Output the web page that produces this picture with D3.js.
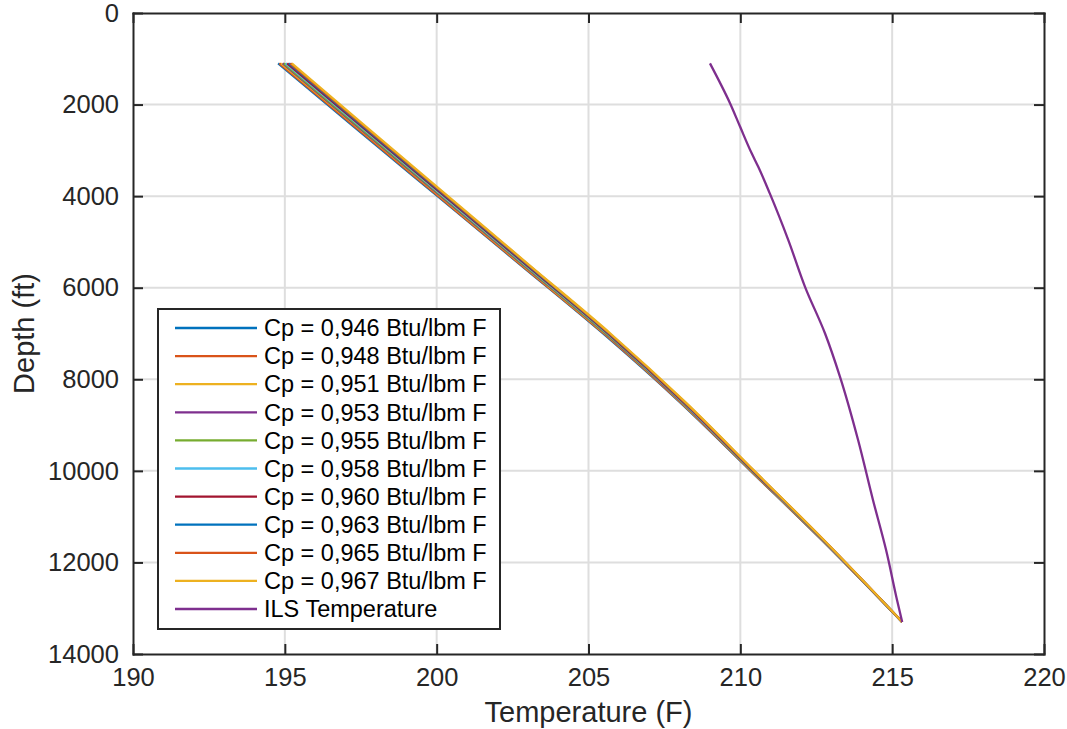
<!DOCTYPE html>
<meta charset="utf-8">
<script src="https://d3js.org/d3.v7.min.js"></script>
<style>
  body { margin:0; background:#fff; }
  text { font-family: "Liberation Sans", Arial, sans-serif; fill:#262626; }
  .tick text { font-size: 25.5px; }
  .grid line { stroke:#dedede; stroke-width:2px; }
  .axis path, .axis line { stroke:#262626; stroke-width:2px; }
  .legend text { font-size: 23.5px; fill:#000; }
</style>
<body>
<script>
// depths (ft) used by the Cp series
var depths = [1100, 2500, 4000, 5500, 7000, 8500, 10000, 11500, 13300];

var cpLabels = ["0,946", "0,948", "0,951", "0,953", "0,955", "0,958", "0,960", "0,963", "0,965", "0,967"];

// temperature (F) for each Cp series at the depths above
var t946 = [194.78, 197.30, 200.03, 202.76, 205.48, 208.01, 210.34, 212.67, 215.33];
var t948 = [194.82, 197.34, 200.06, 202.78, 205.51, 208.03, 210.35, 212.67, 215.33];
var t951 = [194.88, 197.40, 200.11, 202.82, 205.54, 208.05, 210.37, 212.68, 215.33];
var t953 = [194.93, 197.43, 200.14, 202.85, 205.56, 208.07, 210.38, 212.69, 215.33];
var t955 = [194.97, 197.47, 200.18, 202.88, 205.58, 208.09, 210.39, 212.70, 215.33];
var t958 = [195.03, 197.53, 200.22, 202.92, 205.62, 208.11, 210.41, 212.70, 215.33];
var t960 = [195.08, 197.57, 200.26, 202.95, 205.64, 208.13, 210.42, 212.71, 215.33];
var t963 = [195.14, 197.62, 200.31, 202.99, 205.67, 208.16, 210.44, 212.72, 215.33];
var t965 = [195.18, 197.66, 200.34, 203.02, 205.69, 208.17, 210.45, 212.73, 215.33];
var t967 = [195.23, 197.70, 200.37, 203.04, 205.72, 208.19, 210.46, 212.73, 215.33];

// ILS temperature log
var ilsDepths = [1100, 1970, 2480, 3060, 3360, 3940, 4960, 5980, 7000, 7940, 9330, 10640, 11730, 12820, 13300];
var ilsTemps  = [209.0, 209.66, 209.99, 210.37, 210.59, 210.97, 211.58, 212.13, 212.79, 213.28, 213.88, 214.37, 214.8, 215.16, 215.33];

var xTicks = [190, 195, 200, 205, 210, 215, 220];
var yTicks = [0, 2000, 4000, 6000, 8000, 10000, 12000, 14000];

var colors = ["#0072BD", "#D95319", "#EDB120", "#7E2F8E", "#77AC30", "#4DBEEE", "#A2142F",
              "#0072BD", "#D95319", "#EDB120", "#7E2F8E"];

var W = 1067, H = 729;
var pL = 133, pR = 1044, pT = 13, pB = 654;

var series = [t946, t948, t951, t953, t955, t958, t960, t963, t965, t967].map(function(t, i) {
  return { name: "Cp = " + cpLabels[i] + " Btu/lbm F",
           pts: t.map(function(v, j) { return [v, depths[j]]; }) };
});
series.push({ name: "ILS Temperature",
              pts: ilsTemps.map(function(v, j) { return [v, ilsDepths[j]]; }) });

var svg = d3.select("body").append("svg").attr("width", W).attr("height", H);

var x = d3.scaleLinear().domain([190, 220]).range([pL, pR]);
var y = d3.scaleLinear().domain([0, 14000]).range([pT, pB]);

// grid
var grid = svg.append("g").attr("class", "grid");
grid.selectAll(".gx").data(xTicks.slice(1, -1)).enter().append("line")
  .attr("x1", function(d) { return x(d); }).attr("x2", function(d) { return x(d); })
  .attr("y1", pT).attr("y2", pB);
grid.selectAll(".gy").data(yTicks.slice(1, -1)).enter().append("line")
  .attr("y1", function(d) { return y(d); }).attr("y2", function(d) { return y(d); })
  .attr("x1", pL).attr("x2", pR);

// lines
var line = d3.line().curve(d3.curveMonotoneY)
  .x(function(d) { return x(d[0]); }).y(function(d) { return y(d[1]); });
svg.append("g").selectAll("path").data(series).enter().append("path")
  .attr("d", function(d) { return line(d.pts); })
  .attr("fill", "none")
  .attr("stroke", function(d, i) { return colors[i]; })
  .attr("stroke-width", 2.3)
  .attr("stroke-linejoin", "round");

// axes (inward ticks, box)
svg.append("g").attr("class", "axis").attr("transform", "translate(0," + pB + ")")
  .call(d3.axisBottom(x).tickValues(xTicks).tickSizeInner(-10).tickSizeOuter(0).tickPadding(14));
svg.append("g").attr("class", "axis").attr("transform", "translate(" + pL + ",0)")
  .call(d3.axisLeft(y).tickValues(yTicks).tickSizeInner(-10).tickSizeOuter(0).tickPadding(14).tickFormat(d3.format("d")));
svg.append("g").attr("class", "axis").attr("transform", "translate(0," + pT + ")")
  .call(d3.axisTop(x).tickValues(xTicks).tickSizeInner(-10).tickSizeOuter(0).tickFormat(""));
svg.append("g").attr("class", "axis").attr("transform", "translate(" + pR + ",0)")
  .call(d3.axisRight(y).tickValues(yTicks).tickSizeInner(-10).tickSizeOuter(0).tickFormat(""));
svg.selectAll(".axis .domain").attr("stroke-linecap", "square");

// axis titles
svg.append("text").attr("x", (pL + pR) / 2).attr("y", 722)
  .attr("text-anchor", "middle").style("font-size", "29px").text("Temperature (F)");
svg.append("text").attr("transform", "translate(34," + (pT + pB) / 2 + ") rotate(-90)")
  .attr("text-anchor", "middle").style("font-size", "29px").text("Depth (ft)");

// legend
var lg = svg.append("g").attr("class", "legend");
lg.append("rect").attr("x", 158).attr("y", 309).attr("width", 342).attr("height", 320)
  .attr("fill", "#fff").attr("stroke", "#262626").attr("stroke-width", 2);
var rows = lg.selectAll(".row").data(series).enter().append("g")
  .attr("transform", function(d, i) { return "translate(0," + (328 + i * 28.1) + ")"; });
rows.append("line").attr("x1", 175).attr("x2", 257)
  .attr("stroke", function(d, i) { return colors[i]; }).attr("stroke-width", 2.3);
rows.append("text").attr("x", 264).attr("dy", "0.35em").text(function(d) { return d.name; });
</script>
</body>
